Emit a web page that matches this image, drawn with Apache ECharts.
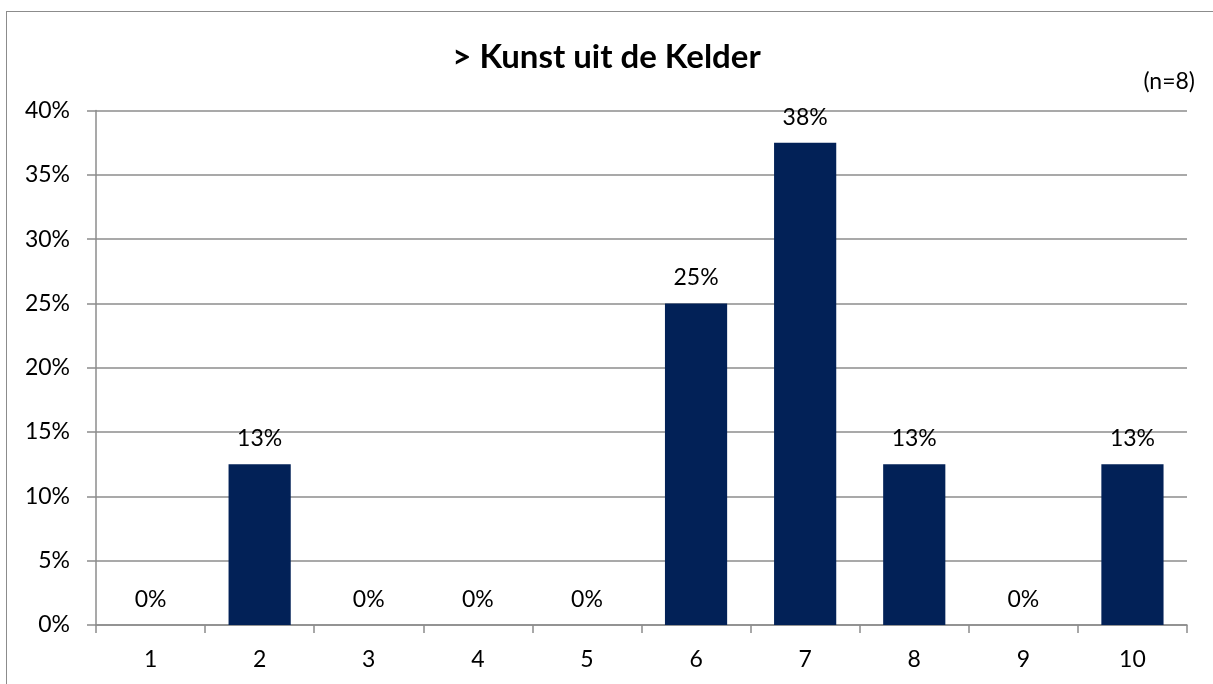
<!DOCTYPE html>
<html>
<head>
<meta charset="utf-8">
<script src="https://cdn.jsdelivr.net/npm/echarts@6/dist/echarts.min.js"></script>
<style>
html,body{margin:0;padding:0;background:#fff;overflow:hidden;}
#wrap{position:relative;width:1213px;height:684px;overflow:hidden;}
#c{position:absolute;left:0;top:0;width:1213px;height:684px;}
#frame{position:absolute;left:6px;top:11px;width:2000px;height:2000px;border-left:1.5px solid #8c8c8c;border-top:1.5px solid #8c8c8c;pointer-events:none;}
</style>
</head>
<body>
<div id="wrap"><div id="c"></div><div id="frame"></div></div>
<script>
const titleText = '> Kunst uit de Kelder';
const noteText = '(n=8)';
const categories = ['1','2','3','4','5','6','7','8','9','10'];
const values = [0, 12.5, 0, 0, 0, 25, 37.5, 12.5, 0, 12.5];
const yTicks = [0, 5, 10, 15, 20, 25, 30, 35, 40];

const FONT = 'Lato';
const FS = 23;
const chart = echarts.init(document.getElementById('c'), null, {renderer:'canvas'});
chart.setOption({
  animation: false,
  backgroundColor: '#ffffff',
  title: {
    text: titleText,
    left: 'center',
    top: 36,
    textStyle: {fontFamily: FONT, fontWeight: 'bold', fontSize: 33, color: '#000'}
  },
  graphic: [
    {type:'text', right: 18, top: 70, style:{text: noteText, fontFamily: FONT, fontSize: FS, fill:'#000'}}
  ],
  grid: {left: 96, right: 26, top: 110.5, bottom: 59, containLabel: false},
  xAxis: {
    type: 'category',
    data: categories,
    axisLine: {show: true, lineStyle: {color: '#8c8c8c', width: 1.5}},
    axisTick: {show: true, length: 8, alignWithLabel: false, lineStyle: {color: '#8c8c8c', width: 1.5}},
    axisLabel: {fontFamily: FONT, fontSize: FS, color: '#000', margin: 23}
  },
  yAxis: {
    type: 'value',
    min: yTicks[0],
    max: yTicks[yTicks.length-1],
    interval: 5,
    axisLine: {show: true, lineStyle: {color: '#8c8c8c', width: 1.5}},
    axisTick: {show: true, length: 9, lineStyle: {color: '#8c8c8c', width: 1.5}},
    splitLine: {show: true, lineStyle: {color: '#8c8c8c', width: 1.5}},
    axisLabel: {fontFamily: FONT, fontSize: FS, color: '#000', margin: 26, formatter: v => v + '%'}
  },
  series: [{
    type: 'bar',
    data: values,
    barWidth: '57%',
    itemStyle: {color: '#022157'},
    label: {
      show: true,
      position: 'top',
      distance: 14,
      fontFamily: FONT,
      fontSize: FS,
      color: '#000',
      formatter: p => Math.round(p.value) + '%'
    }
  }]
});
</script>
</body>
</html>
